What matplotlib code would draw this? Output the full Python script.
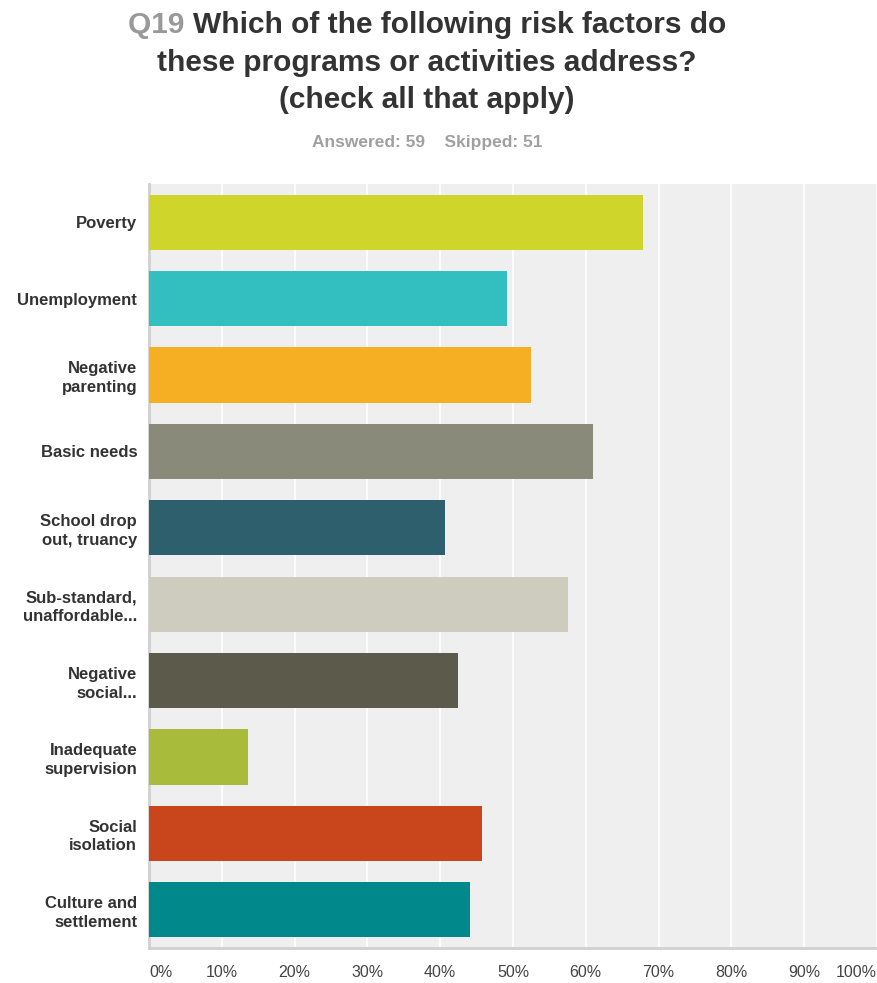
import matplotlib
matplotlib.use("Agg")
import matplotlib.pyplot as plt
import numpy as np

# ── Data ─────────────────────────────────────────────
categories = ["Poverty", "Unemployment", "Negative\nparenting", "Basic needs",
              "School drop\nout, truancy", "Sub-standard,\nunaffordable...",
              "Negative\nsocial...", "Inadequate\nsupervision", "Social\nisolation",
              "Culture and\nsettlement"]
percent = [67.8, 49.2, 52.5, 61.0, 40.7, 57.6, 42.4, 13.6, 45.8, 44.1]
colors = ["#CFD52A", "#33BEC0", "#F6AF22", "#898A7A", "#2E5F6D",
          "#CDCCBE", "#5C5A4B", "#A8BB3A", "#C9461C", "#00888A"]
xticks = [0, 10, 20, 30, 40, 50, 60, 70, 80, 90, 100]

W, H = 877, 983
fig = plt.figure(figsize=(W / 100, H / 100), dpi=100)
ax = fig.add_axes([149 / W, (H - 948) / H, 728 / W, (948 - 184) / H])

y = np.arange(len(categories))
ax.barh(y, percent, height=0.72, color=colors, zorder=3)
ax.set_ylim(len(categories) - 0.5, -0.5)
ax.set_xlim(0, 100)
ax.set_facecolor("#EFEFEF")
ax.set_xticks(xticks)
ax.grid(axis="x", color="white", linewidth=1.2, zorder=1)
ax.set_yticks(y)
ax.set_yticklabels(categories, fontsize=12, fontweight="bold", color="#333333",
                   family=["Liberation Sans", "DejaVu Sans"], linespacing=1.3)
ax.tick_params(axis="y", length=0, pad=8.5)
ax.tick_params(axis="x", length=0, pad=12)
ax.set_xticklabels([f"{t}%" for t in xticks], fontsize=11.5, color="#444444",
                   family=["Liberation Sans", "DejaVu Sans"])
tl = ax.get_xticklabels()
tl[0].set_ha("left")
tl[-1].set_ha("right")
for s in ["top", "right"]:
    ax.spines[s].set_visible(False)
for s in ["left", "bottom"]:
    ax.spines[s].set_color("#D0D0D0")
    ax.spines[s].set_linewidth(2)

# ── Title ────────────────────────────────────────────
tfam = ["Liberation Sans", "DejaVu Sans"]
tkw = dict(fontsize=21.5, fontweight="bold", family=tfam, va="baseline")
cx = 427 / W

fig.canvas.draw()
r = fig.canvas.get_renderer()
t1 = fig.text(0, 1 - 33 / H, "Q19 ", color="#999999", **tkw)
t2 = fig.text(0, 1 - 33 / H, "Which of the following risk factors do", color="#333333", **tkw)
w1 = t1.get_window_extent(r).width
w2 = t2.get_window_extent(r).width
x0 = cx * W - (w1 + w2) / 2
t1.set_x(x0 / W)
t2.set_x((x0 + w1) / W)
fig.text(cx, 1 - 71 / H, "these programs or activities address?", color="#333333",
         ha="center", **tkw)
fig.text(cx, 1 - 108 / H, "(check all that apply)", color="#333333", ha="center", **tkw)
fig.text(cx, 1 - 143 / H, "Answered: 59    Skipped: 51", color="#A0A0A0",
         ha="center", va="center", fontsize=12.5, fontweight="bold", family=tfam)

fig.savefig("out.png", dpi=100)
